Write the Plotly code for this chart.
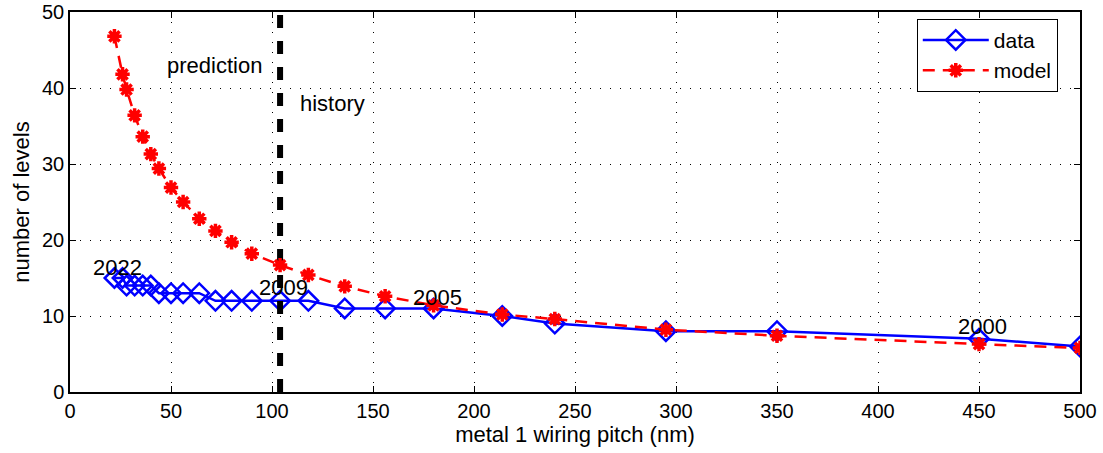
import plotly.graph_objects as go

# metal 1 wiring pitch (nm)
pitch = [22, 26, 28, 32, 36, 40, 44, 50, 56, 64, 72, 80, 90, 104, 118, 136,
         156, 180, 214, 240, 295, 350, 450, 500]
# number of levels (data)
levels_data = [15, 15, 14, 14, 14, 14, 13, 13, 13, 13, 12, 12, 12, 12, 12, 11,
               11, 11, 10, 9, 8, 8, 7, 6]
# number of levels (model)
levels_model = [46.8, 41.8, 39.8, 36.4, 33.6, 31.3, 29.4, 26.9, 25.0, 22.8, 21.2,
                19.7, 18.2, 16.7, 15.4, 13.9, 12.6, 11.4, 10.2, 9.6, 8.2, 7.4,
                6.3, 5.8]

boundary_x = [104, 104]
boundary_y = [0, 50]

label_text = ["prediction", "history", "2022", "2009", "2005", "2000"]
label_x = [71.5, 130, 23.5, 105.5, 182, 451.5]
label_y = [42.9, 38.0, 16.4, 13.7, 12.5, 8.6]

x_ticks = [0, 50, 100, 150, 200, 250, 300, 350, 400, 450, 500]
y_ticks = [0, 10, 20, 30, 40, 50]

FONT = "Liberation Sans, Arial, sans-serif"

fig = go.Figure()
fig.add_trace(go.Scatter(
    x=pitch, y=levels_data, name="data", mode="lines+markers",
    line=dict(color="#0000ff", width=2.5),
    marker=dict(symbol="diamond-open", size=15, color="#0000ff",
                line=dict(color="#0000ff", width=2.5)),
))
fig.add_trace(go.Scatter(
    x=boundary_x, y=boundary_y, mode="lines", showlegend=False,
    line=dict(color="black", width=6, dash="13px,13px"), hoverinfo="skip",
))
fig.add_trace(go.Scatter(
    x=pitch, y=levels_model, name="model", mode="lines+markers",
    line=dict(color="#ff0000", width=2.5, dash="12px,8px"),
    marker=dict(symbol="asterisk", size=12, color="#ff0000",
                line=dict(color="#ff0000", width=3.5)),
))

for t, x, y in zip(label_text, label_x, label_y):
    fig.add_annotation(x=x, y=y, text=t, showarrow=False,
                       font=dict(family=FONT, size=22, color="black"))

axis_common = dict(
    showline=True, linecolor="black", linewidth=1.5, mirror="ticks",
    ticks="inside", ticklen=6, tickwidth=1, tickcolor="black",
    showgrid=True, gridcolor="black", gridwidth=1, griddash="1px,9px",
    zeroline=False, tickfont=dict(family=FONT, size=20, color="black"),
)

fig.update_xaxes(range=[0, 500], tickvals=x_ticks,
                 title=dict(text="metal 1 wiring pitch (nm)",
                            font=dict(family=FONT, size=22, color="black"),
                            standoff=6),
                 **axis_common)
fig.update_yaxes(range=[0, 50], tickvals=y_ticks,
                 title=dict(text="number of levels",
                            font=dict(family=FONT, size=22, color="black"),
                            standoff=6),
                 **axis_common)

fig.update_layout(
    width=1103, height=453,
    margin=dict(l=70, r=23, t=12, b=61, autoexpand=False),
    plot_bgcolor="white", paper_bgcolor="white",
    font=dict(family=FONT, size=20, color="black"),
    legend=dict(x=0.978, y=0.982, xanchor="right", yanchor="top",
                bgcolor="white", bordercolor="black", borderwidth=1,
                font=dict(family=FONT, size=21, color="black"),
                itemwidth=66, tracegroupgap=0),
    showlegend=True,
)

fig.write_html("out.html")
